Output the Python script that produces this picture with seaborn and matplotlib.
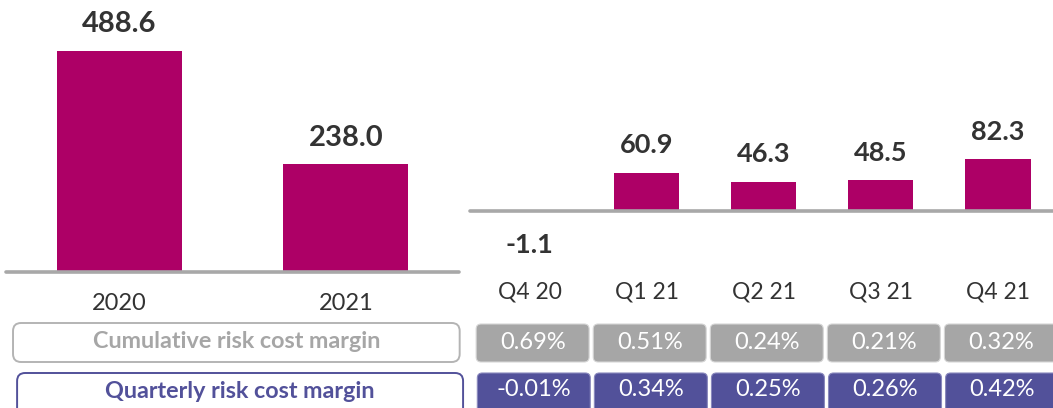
import matplotlib
matplotlib.use("Agg")
import matplotlib.pyplot as plt
import seaborn as sns
import pandas as pd
from matplotlib.patches import FancyBboxPatch

# data
years = ["2020", "2021"]
year_values = [488.6, 238.0]
quarters = ["Q4 20", "Q1 21", "Q2 21", "Q3 21", "Q4 21"]
quarter_values = [-1.1, 60.9, 46.3, 48.5, 82.3]
cumulative_margin = ["0.69%", "0.51%", "0.24%", "0.21%", "0.32%"]
quarterly_margin = ["-0.01%", "0.34%", "0.25%", "0.26%", "0.42%"]
row_titles = ["Cumulative risk cost margin", "Quarterly risk cost margin"]

BAR = "#ad0066"
GREY = "#a6a6a6"
LINE = "#a8a8a8"
PURPLE = "#52519a"
DARK = "#333333"

sns.set_theme(style="white")
plt.rcParams["font.family"] = ["Lato", "DejaVu Sans"]

W, H = 1053, 408
fig = plt.figure(figsize=(W / 100, H / 100), dpi=100)

ax1 = fig.add_axes([6 / W, 136 / H, 453 / W, 272 / H])
ax2 = fig.add_axes([470 / W, 136 / H, 583 / W, 272 / H])

df1 = pd.DataFrame({"year": years, "value": year_values})
df2 = pd.DataFrame({"quarter": quarters, "value": quarter_values})
sns.barplot(data=df1, x="year", y="value", color=BAR, width=0.552,
            saturation=1, errorbar=None, linewidth=0, ax=ax1)
sns.barplot(data=df2, x="quarter", y="value", color=BAR, width=0.556,
            saturation=1, errorbar=None, linewidth=0, ax=ax2)

ax1.set_xlim(-0.5, 1.5)
ax1.set_ylim(0, 272 / 0.452)
ax2.set_xlim(-0.51, 4.47)
ax2.set_ylim(-61 / 0.63, 211 / 0.63)

for ax, pad, size in [(ax1, 15, 17), (ax2, 6.5, 16.5)]:
    ax.axhline(0, color=LINE, lw=2.6, clip_on=False, zorder=3)
    ax.set_xlabel("")
    ax.set_ylabel("")
    ax.set_yticks([])
    ax.tick_params(axis="x", length=0, pad=pad, labelsize=size, labelcolor=DARK)
    sns.despine(ax=ax, left=True, bottom=True)

for i, v in enumerate(year_values):
    ax1.annotate(f"{v:.1f}", (i, v), xytext=(0, 13.5), textcoords="offset points",
                 ha="center", va="baseline", fontsize=21, fontweight="bold", color=DARK)

for i, v in enumerate(quarter_values):
    if v >= 0:
        ax2.annotate(f"{v:.1f}", (i, v), xytext=(0, 14), textcoords="offset points",
                     ha="center", va="baseline", fontsize=19.5, fontweight="bold", color=DARK)
    else:
        ax2.annotate(f"{v:.1f}", (i, v), xytext=(0, -15), textcoords="offset points",
                     ha="center", va="top", fontsize=19.5, fontweight="bold", color=DARK)


def fig_x(ax, x):
    return fig.transFigure.inverted().transform(ax.transData.transform((x, 0)))[0]


def draw_box(ax, x0, x1, top, bottom, text_y, text, face, edge, tcolor,
             weight, size, lw, r):
    fx0, fx1 = fig_x(ax, x0), fig_x(ax, x1)
    fy0, fy1 = 1 - bottom / H, 1 - top / H
    patch = FancyBboxPatch((fx0, fy0), fx1 - fx0, fy1 - fy0,
                           boxstyle=f"round,pad=0,rounding_size={r / W}",
                           mutation_aspect=W / H, transform=fig.transFigure,
                           facecolor=face, edgecolor=edge, linewidth=lw)
    fig.add_artist(patch)
    fig.text((fx0 + fx1) / 2, 1 - text_y / H, text, ha="center", va="center",
             color=tcolor, fontweight=weight, fontsize=size)


# row titles on the left
draw_box(ax1, -0.469, 1.503, 323, 362, 342, row_titles[0], "white", "#b4b4b4",
         GREY, "bold", 16.8, 1.4, 8)
draw_box(ax1, -0.451, 1.518, 373, 425, 391, row_titles[1], "white", PURPLE,
         PURPLE, "bold", 16.8, 1.4, 8)

# margin cells under each quarter
for i, (c, q) in enumerate(zip(cumulative_margin, quarterly_margin)):
    draw_box(ax2, i + 0.025 - 0.4825, i + 0.025 + 0.4825, 324, 362, 342.5, c,
             GREY, "#d6d6d6", "white", "normal", 17, 0.8, 5)
    draw_box(ax2, i + 0.035 - 0.4825, i + 0.035 + 0.4825, 373, 425, 390, q,
             PURPLE, "#8a89bd", "white", "normal", 17, 0.8, 5)

fig.savefig("out.png", dpi=100)
